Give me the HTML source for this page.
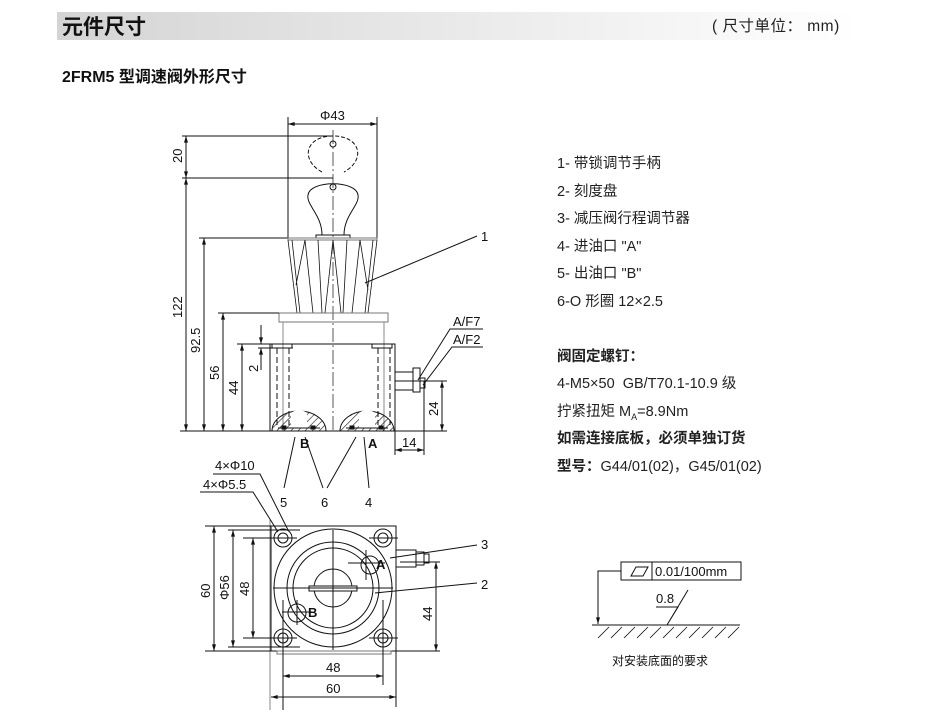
<!DOCTYPE html>
<html><head><meta charset="utf-8"><style>
body{margin:0;width:930px;height:715px;background:#fff;overflow:hidden;font-family:"Liberation Sans","Noto Sans CJK SC",sans-serif;}
.bar{position:absolute;left:57px;top:12px;width:800px;height:28px;background:linear-gradient(90deg,#d4d4d4,#f2f2f2 70%,#fff);}
.t1{position:absolute;left:62px;top:11px;font-size:21px;font-weight:bold;color:#111;}
.unit{position:absolute;left:712px;top:14px;font-size:15.5px;color:#222;letter-spacing:.5px;}
.t2{position:absolute;left:62px;top:63px;font-size:16px;font-weight:bold;color:#111;}
.lst{position:absolute;left:557px;font-size:14.5px;color:#222;white-space:nowrap;}
.b{font-weight:bold;}
svg{position:absolute;left:0;top:0;}
svg text{font-family:"Liberation Sans","Noto Sans CJK SC",sans-serif;fill:#111;}
</style></head><body>
<div class="bar"></div>
<div class="t1">元件尺寸</div>
<div class="unit">( 尺寸单位： mm)</div>
<div class="t2">2FRM5 型调速阀外形尺寸</div>
<div class="lst" style="top:152px">1- 带锁调节手柄</div>
<div class="lst" style="top:180px">2- 刻度盘</div>
<div class="lst" style="top:207px">3- 减压阀行程调节器</div>
<div class="lst" style="top:235px">4- 进油口 "A"</div>
<div class="lst" style="top:262px">5- 出油口 "B"</div>
<div class="lst" style="top:290px">6-O 形圈 12×2.5</div>
<div class="lst b" style="top:345px">阀固定螺钉：</div>
<div class="lst" style="top:372px">4-M5×50&nbsp; GB/T70.1-10.9 级</div>
<div class="lst" style="top:400px">拧紧扭矩 M<sub style="font-size:9px">A</sub>=8.9Nm</div>
<div class="lst b" style="top:427px">如需连接底板，必须单独订货</div>
<div class="lst" style="top:455px"><b>型号：</b>G44/01(02)，G45/01(02)</div>

<svg width="930" height="715" viewBox="0 0 930 715">
<defs>
<marker id="a" viewBox="0 0 10 6" refX="10" refY="3" markerWidth="8" markerHeight="4" orient="auto-start-reverse"><path d="M0,0L10,3L0,6z" fill="#111"/></marker>
<pattern id="h" width="5" height="5" patternUnits="userSpaceOnUse" patternTransform="rotate(45)"><line x1="0" y1="0" x2="0" y2="5" stroke="#111" stroke-width="1.2"/></pattern>
</defs>
<g stroke="#111" stroke-width="1" fill="none">
<line x1="288" y1="117" x2="288" y2="238"/><line x1="377" y1="117" x2="377" y2="238"/>
<line x1="288" y1="124" x2="377" y2="124" marker-start="url(#a)" marker-end="url(#a)"/>
<line x1="333" y1="130" x2="333" y2="432" stroke-dasharray="14,3,2,3" stroke-width=".7"/>
<line x1="182" y1="136" x2="333" y2="136"/><line x1="182" y1="178" x2="333" y2="178"/>
<line x1="186" y1="136" x2="186" y2="178" marker-start="url(#a)" marker-end="url(#a)"/>
<line x1="186" y1="178" x2="186" y2="431" marker-start="url(#a)" marker-end="url(#a)"/>
<path d="M322,172 C300,160 305,136 333,136 C361,136 366,160 344,172" stroke-dasharray="4,2"/>
<circle cx="333" cy="144" r="3"/>
<path d="M322,235 C322,215 306,205 308,195 C310,180 356,180 358,195 C360,205 344,215 344,235"/>
<circle cx="333" cy="187" r="3"/>
<rect x="316" y="235" width="34" height="3"/>
<line x1="199" y1="238" x2="288" y2="238"/>
<line x1="204" y1="238" x2="204" y2="431" marker-start="url(#a)" marker-end="url(#a)"/>
<rect x="288" y="238" width="89" height="2" stroke="#777"/>
<path d="M288,240 L297,313 M377,240 L368,313 M292,240 L300,313 M305,240 L313,313 M305,240 L296,285 M318,240 L322,313 M333,240 L325,313 M333,240 L341,313 M347,240 L343,313 M360,240 L352,313 M360,240 L368,290 M373,240 L365,313" stroke-width=".8"/>
<rect x="279" y="313" width="109" height="9" stroke="#777"/>
<line x1="218" y1="313" x2="279" y2="313"/>
<line x1="223" y1="313" x2="223" y2="431" marker-start="url(#a)" marker-end="url(#a)"/>
<line x1="283" y1="322" x2="283" y2="431" stroke="#888"/><line x1="384" y1="322" x2="384" y2="431" stroke="#888"/>
<line x1="237" y1="344" x2="270" y2="344"/>
<line x1="242" y1="344" x2="242" y2="431" marker-start="url(#a)" marker-end="url(#a)"/>
<line x1="261" y1="325" x2="261" y2="344" marker-end="url(#a)"/><line x1="261" y1="348" x2="261" y2="370" marker-start="url(#a)"/>
<line x1="258" y1="348" x2="293" y2="348"/>
<rect x="270" y="344" width="125" height="87"/>
<rect x="272" y="344" width="20" height="4"/><rect x="372" y="344" width="20" height="4"/>
<line x1="277" y1="348" x2="277" y2="425" stroke-dasharray="6,3"/><line x1="289" y1="348" x2="289" y2="425" stroke-dasharray="6,3"/>
<line x1="378" y1="348" x2="378" y2="425" stroke-dasharray="6,3"/><line x1="390" y1="348" x2="390" y2="425" stroke-dasharray="6,3"/>
<path d="M272,431 A27,20 0 0 1 326,431 Z" fill="url(#h)"/><path d="M291,428 L291,413 A12,12 0 0 1 307,413 L307,428 Z" fill="#fff" stroke="none"/>
<path d="M340,431 A27,20 0 0 1 394,431 Z" fill="url(#h)"/><path d="M359,428 L359,413 A12,12 0 0 1 375,413 L375,428 Z" fill="#fff" stroke="none"/>
<line x1="278" y1="428" x2="320" y2="428"/><line x1="346" y1="428" x2="388" y2="428"/>
<rect x="282" y="426" width="4" height="3" fill="#111"/><rect x="311" y="426" width="4" height="3" fill="#111"/>
<rect x="350" y="426" width="4" height="3" fill="#111"/><rect x="379" y="426" width="4" height="3" fill="#111"/>
<line x1="180" y1="431" x2="447" y2="431"/>
<rect x="395" y="372" width="18" height="18"/><rect x="413" y="368" width="7" height="24"/><rect x="420" y="378" width="5" height="10"/>
<line x1="395" y1="381" x2="447" y2="381"/>
<line x1="442" y1="381" x2="442" y2="431" marker-start="url(#a)" marker-end="url(#a)"/>
<line x1="424" y1="381" x2="424" y2="455"/><line x1="395" y1="431" x2="395" y2="455"/>
<line x1="395" y1="450" x2="424" y2="450" marker-start="url(#a)" marker-end="url(#a)"/>
<path d="M418,380 L450,329 L483,329 M423,385 L452,347 L483,347"/>
<line x1="365" y1="283" x2="477" y2="236"/>
<path d="M295,437 L284,488 M305,437 L323,488 M356,437 L327,488 M364,437 L369,488"/>
<line x1="270" y1="520" x2="270" y2="710" stroke="#888"/>
<rect x="271" y="526" width="125" height="125"/>
<rect x="277" y="651" width="114" height="3" stroke="#777"/>
<g><circle cx="283" cy="538" r="9"/><circle cx="283" cy="538" r="5"/><circle cx="383" cy="538" r="9"/><circle cx="383" cy="538" r="5"/><circle cx="283" cy="638" r="9"/><circle cx="283" cy="638" r="5"/><circle cx="383" cy="638" r="9"/><circle cx="383" cy="638" r="5"/></g>
<path d="M243,538 L297,538 M243,638 L297,638 M369,538 L398,538 M369,638 L398,638 M283,600 L283,710 M383,600 L383,685"/>
<circle cx="333" cy="588" r="59"/>
<circle cx="333" cy="588" r="46"/>
<circle cx="333" cy="588" r="40"/>
<circle cx="333" cy="588" r="19"/>
<rect x="309" y="586" width="48" height="5" fill="#fff"/>
<line x1="333" y1="530" x2="333" y2="650"/><line x1="273" y1="588" x2="393" y2="588"/>
<circle cx="370" cy="565" r="9"/><path d="M348,563 L385,563 M366,550 L366,580"/>
<circle cx="297" cy="613" r="9"/><path d="M282,612 L312,612 M297,600 L297,625"/>
<rect x="396" y="550" width="20" height="17"/><rect x="416" y="552" width="8" height="13"/><rect x="424" y="554" width="5" height="9"/>
<line x1="205" y1="526" x2="271" y2="526"/><line x1="205" y1="651" x2="271" y2="651"/>
<line x1="214" y1="526" x2="214" y2="651" marker-start="url(#a)" marker-end="url(#a)"/>
<line x1="228" y1="530" x2="300" y2="530"/><line x1="228" y1="647" x2="300" y2="647"/>
<line x1="233" y1="530" x2="233" y2="647" marker-start="url(#a)" marker-end="url(#a)"/>
<line x1="253" y1="538" x2="253" y2="638" marker-start="url(#a)" marker-end="url(#a)"/>
<line x1="400" y1="562" x2="440" y2="562"/><line x1="396" y1="651" x2="440" y2="651"/>
<line x1="436" y1="562" x2="436" y2="651" marker-start="url(#a)" marker-end="url(#a)"/>
<line x1="396" y1="651" x2="396" y2="707"/>
<line x1="283" y1="676" x2="383" y2="676" marker-start="url(#a)" marker-end="url(#a)"/>
<line x1="271" y1="697" x2="396" y2="697" marker-start="url(#a)" marker-end="url(#a)"/>
<path d="M213,474 L260,474 L288,530 M200,492 L253,492 L278,532"/>
<path d="M390,558 L477,545 M375,593 L477,583"/>
<rect x="621" y="562" width="120" height="18"/><line x1="652" y1="562" x2="652" y2="580"/>
<path d="M631,576 L636,567 L648,567 L643,576 Z"/>
<path d="M621,571 L598,571 L598,624" marker-end="url(#a)"/>
<line x1="592" y1="625" x2="740" y2="625"/>
<path d="M598,638 L609,627 M611,638 L622,627 M624,638 L635,627 M637,638 L648,627 M650,638 L661,627 M663,638 L674,627 M676,638 L687,627 M689,638 L700,627 M702,638 L713,627 M715,638 L726,627 M728,638 L739,627" stroke-width=".8"/>
<path d="M656,607 L678,607 L667,625 L688,590"/>
</g>
<g font-size="13">
<text x="320" y="120">Φ43</text>
<text transform="translate(182,163) rotate(-90)">20</text>
<text transform="translate(182,318) rotate(-90)">122</text>
<text transform="translate(200,353) rotate(-90)">92.5</text>
<text transform="translate(219,380) rotate(-90)">56</text>
<text transform="translate(238,395) rotate(-90)">44</text>
<text transform="translate(258,372) rotate(-90)">2</text>
<text transform="translate(438,416) rotate(-90)">24</text>
<text x="402" y="447">14</text>
<text x="453" y="326">A/F7</text>
<text x="453" y="344">A/F2</text>
<text x="481" y="241">1</text>
<text x="300" y="448" font-weight="bold">B</text>
<text x="368" y="448" font-weight="bold">A</text>
<text x="280" y="507">5</text><text x="321" y="507">6</text><text x="365" y="507">4</text>
<text x="215" y="470">4×Φ10</text>
<text x="203" y="489">4×Φ5.5</text>
<text x="481" y="549">3</text><text x="481" y="589">2</text>
<text x="376" y="569" font-weight="bold">A</text>
<text x="308" y="617" font-weight="bold">B</text>
<text transform="translate(210,598) rotate(-90)">60</text>
<text transform="translate(229,600) rotate(-90)">Φ56</text>
<text transform="translate(249,596) rotate(-90)">48</text>
<text transform="translate(432,621) rotate(-90)">44</text>
<text x="326" y="672">48</text><text x="326" y="693">60</text>
<text x="655" y="576">0.01/100mm</text>
<text x="656" y="603">0.8</text>
<text x="612" y="665" font-size="12">对安装底面的要求</text>
</g>
</svg>
</body></html>
